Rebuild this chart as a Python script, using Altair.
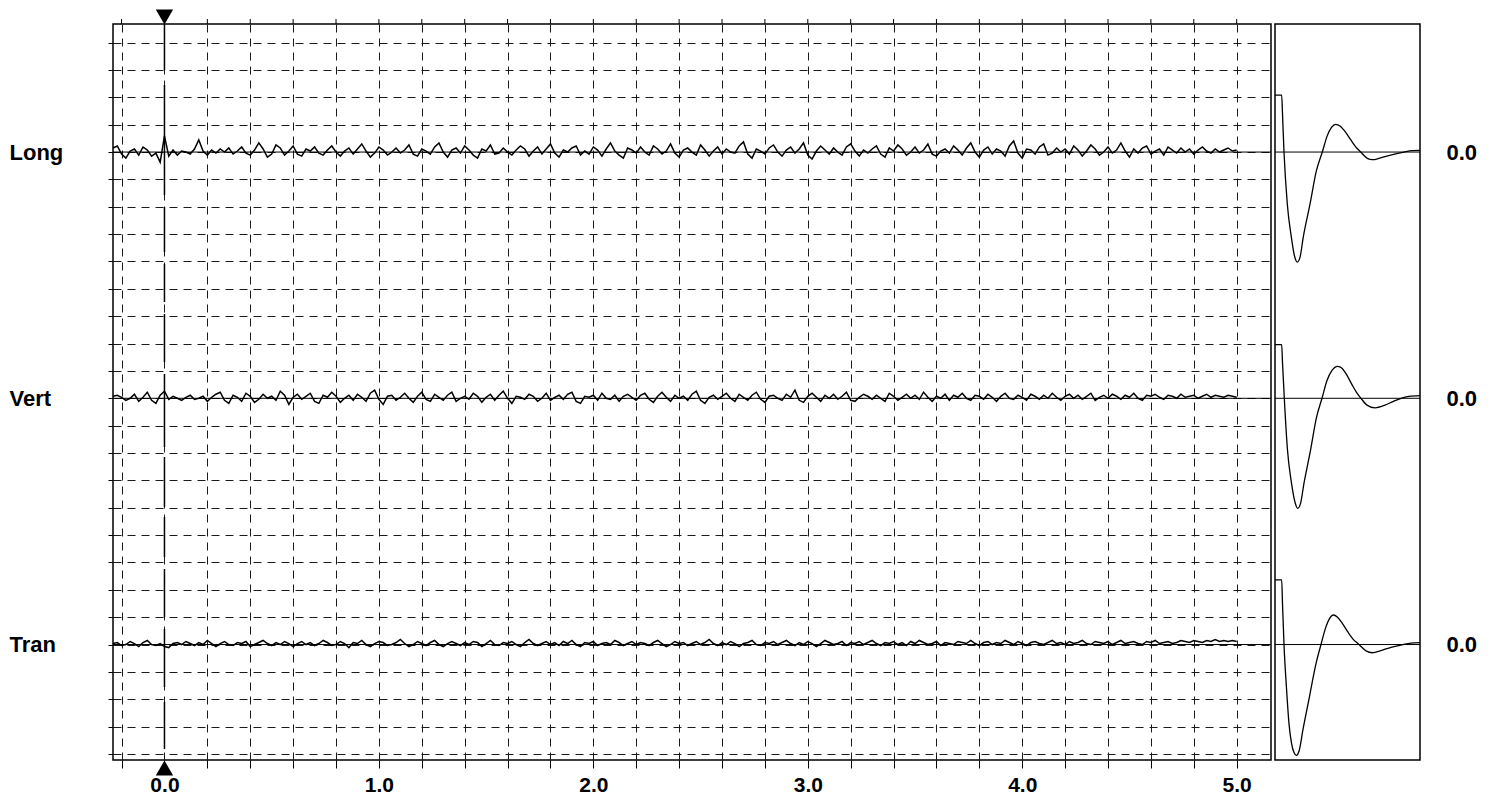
import altair as alt
import pandas as pd

FONT = "Liberation Sans"

# ---------------- data ----------------
CHANNELS = ["Long", "Vert", "Tran"]
BASELINES = [22, 13, 4]          # grid row of each channel's zero line
T_START, T_END = -0.24, 5.0      # seconds covered by the traces
AMP_PER_COUNT = 0.037            # grid rows per amplitude count

LONG = [4, 6, -2, -6, 1, 3, -3, 5, 2, -4, -1, -10, 16, -4, 2, -3, 1, 0, -2, 3, 12, 1, -3, 2, -1,
        3, 0, 4, -2, 1, 5, -1, -3, 2, 9, 3, -5, -2, 7, 4, -3, 1, 6, -2, -4, 3, 1, 5, -1, -3,
        2, 6, 0, -4, 1, 4, -2, 3, 8, 1, -5, -1, 5, 2, -3, 0, 4, -1, 2, 7, -2, -4, 3, 1, -2,
        5, 9, 0, -5, 2, 4, -1, 6, 2, -3, -6, 3, 1, 7, -2, -1, 4, 0, -3, 2, 6, 3, -4, 1, 5,
        -2, 3, 8, -1, -5, 2, 0, 4, 6, -3, 1, -2, 5, 2, -4, 3, 9, 1, -3, -6, 4, 2, -1, 5, 0,
        -3, 6, 3, -2, 1, 8, -1, -5, 2, 4, 0, -3, 7, 2, -4, 1, 5, -2, 3, 0, -1, 6, 10, -2, -6,
        3, 1, -2, 4, 7, 0, -4, 2, 5, -1, 3, 9, -3, -7, 1, 6, 2, -2, 4, 0, -3, 5, 8, 1, -4,
        2, -1, 3, 6, -2, -5, 4, 1, 7, 3, -3, 0, 5, -1, 2, 8, -2, -4, 1, 3, -1, 6, 2, -3, 4,
        9, 0, -5, 2, 5, -2, 3, 1, -4, 6, 11, -1, -6, 3, 2, -2, 5, 8, -3, -1, 4, 0, 3, -2, 6,
        2, -4, 1, 7, 3, -3, 0, 5, -1, 2, 9, 1, -5, 3, -1, 4, 6, -2, 1, 3, -3, 5, 2, -1, 4,
        0, 3, -2, 2, 5, 1, -1, 3, 0, 2, 4, 1, 2]

VERT = [2, 3, 1, -2, 0, 4, -3, 1, 6, -2, -5, 3, 7, -1, 2, 0, -2, 1, 3, -1, 0, 2, -3, 1, 4,
        6, -2, -5, 3, 1, -3, 5, 2, -4, -1, 4, 0, 2, -2, 7, 3, -6, 1, 4, -1, 2, 5, -3, -5, 3,
        1, 6, 2, -4, 0, 3, -2, 4, 1, -3, 5, 8, -1, -6, 2, 3, -2, 1, 5, 0, -4, 2, 6, -1, -3,
        4, 1, -2, 3, 6, -3, 0, 2, -1, 5, 2, -4, 1, 4, -2, 3, 7, 0, -5, 2, 1, -1, 4, 2, -3,
        0, 5, -2, 1, 3, -1, 4, 6, -3, -5, 2, 1, 3, -2, 5, 0, -1, 3, -3, 2, 4, 1, -2, 3, 5,
        -1, -4, 2, 6, 1, -3, 3, 0, 2, -2, 4, 7, -2, -5, 1, 3, -1, 2, 5, 0, -3, 4, 1, -2, 3,
        6, -1, -4, 2, 3, 0, -2, 4, 1, 8, -2, -4, 2, 5, 1, -3, 3, 0, 4, -1, 2, 6, -2, -3, 1,
        4, 2, -1, 3, 0, -3, 5, 2, -2, 1, 4, 0, 3, -1, 6, 1, -3, 2, 0, 4, -2, 3, 1, 5, 0,
        -2, 3, 2, -1, 4, 1, -3, 2, 5, 0, -1, 3, 1, -2, 4, 2, -1, 3, 0, 5, 1, -2, 2, 4, 0,
        3, -1, 2, 5, -2, 1, 3, 0, 4, 2, -1, 3, 1, 5, 0, -2, 3, 2, 4, 1, -1, 3, 2, 0, 4,
        1, 2, 3, 0, 2, 4, 1, 3, 2, 1, 3, 2, 1]

TRAN = [1, 2, -1, 0, 3, 1, -2, 2, 4, 0, -1, 1, -2, -3, 1, 2, 0, 3, 1, -1, 2, 0, 4, 1, -2,
        1, 3, 0, -1, 2, 1, 3, -2, 0, 2, 4, 1, -1, 2, 0, 3, 1, -2, 1, 3, 0, 2, -1, 1, 4,
        2, -1, 0, 3, 1, -3, 2, 1, 4, 0, -2, 1, 3, 2, -1, 0, 2, 5, 1, -2, 0, 3, 1, -1, 2,
        4, 0, -2, 1, 3, 1, -1, 2, 0, 3, 2, -2, 1, 4, 0, -1, 2, 1, 3, 0, -2, 2, 5, 1, -1,
        1, 3, 0, 2, -1, 3, 1, 4, 0, -2, 2, 1, 3, -1, 1, 2, 0, 4, 2, -1, 1, 3, 0, 2, 1,
        -1, 2, 4, 1, -2, 0, 3, 1, 2, -1, 1, 3, 0, 2, 5, 1, -1, 2, 0, 3, 1, -2, 1, 2, 4,
        0, -1, 2, 1, 3, 0, 2, 4, 1, -1, 2, 0, 3, 1, -2, 1, 4, 2, 0, 1, 3, -1, 2, 1, 3,
        0, 2, 4, 1, -1, 2, 1, 3, 0, 2, -1, 3, 1, 4, 2, 0, 1, 3, -1, 2, 1, 0, 3, 2, 1,
        4, 1, -1, 2, 3, 0, 2, 1, 4, 2, 0, 3, 1, -1, 2, 3, 1, 0, 2, 4, 1, 2, 0, 3, 1,
        2, 4, 1, 0, 3, 2, 1, 3, 0, 2, 4, 1, 2, 3, 1, 0, 3, 2, 4, 1, 2, 3, 1, 2, 4,
        3, 2, 4, 3, 2, 4, 3, 5, 3, 4, 3, 4, 3]

# right-hand panel: response curves (position along panel, value in grid rows)
RESP_LONG = [(0, 2.08), (6.7, 2.08), (7.5, 1.4), (9, 0), (12.3, -1.9), (16.3, -3.1), (19.5, -3.8),
             (22.3, -4.02), (25, -3.85), (28.3, -3.1), (35, -1.9), (41.3, -0.7), (47.3, 0),
             (52.3, 0.6), (56.5, 0.9), (60.7, 1.01), (65, 0.95), (69, 0.8), (75.7, 0.45),
             (80.5, 0.2), (85.7, 0), (92.3, -0.23), (97.3, -0.28), (105.7, -0.21),
             (115.7, -0.11), (129, 0), (137, 0.05), (145, 0.06)]
RESP_VERT = [(0, 1.96), (6.7, 1.96), (7.5, 1.3), (9.3, 0), (12.5, -1.9), (16.5, -3.1), (20, -3.8),
             (22.7, -4.02), (25.5, -3.85), (29, -3.1), (35.5, -1.9), (41.5, -0.7), (47, 0),
             (52, 0.65), (57, 1.02), (62.7, 1.17), (67, 1.1), (71, 0.9), (77, 0.5),
             (81.5, 0.22), (86, 0), (92, -0.25), (100, -0.35), (110, -0.25), (118, -0.12),
             (126, 0), (134, 0.07), (145, 0.1)]
RESP_TRAN = [(0, 2.36), (6.7, 2.36), (7.5, 1.5), (9, 0), (11.5, -1.6), (14, -2.9), (16.5, -3.6),
             (19, -3.95), (21.3, -4.05), (24, -3.9), (28, -3.1), (34.5, -1.9), (41, -0.7),
             (46, 0), (50.5, 0.6), (54.5, 0.95), (58.3, 1.08), (62.5, 1.0), (66.5, 0.82),
             (73, 0.45), (78, 0.2), (84, 0), (91, -0.23), (97.3, -0.3), (106, -0.22),
             (116, -0.1), (128, 0), (136, 0.05), (145, 0.07)]

X_TICKS = [-0.2, 0.0, 0.2, 0.4, 0.6, 0.8, 1.0, 1.2, 1.4, 1.6, 1.8, 2.0, 2.2, 2.4, 2.6, 2.8,
           3.0, 3.2, 3.4, 3.6, 3.8, 4.0, 4.2, 4.4, 4.6, 4.8, 5.0]
Y_GRID = list(range(0, 27))
MARKER_T = [0.0]

X_DOMAIN = [-0.24, 5.16]
Y_DOMAIN = [-0.22, 26.68]
RESP_DOMAIN = [0, 145]

# dash pattern of the time-zero marker line (from top to bottom)
MARKER_DASH = [46, 15, 110, 12, 45, 12, 38, 12, 48, 12, 73, 10, 50, 10, 40, 12, 48, 12, 58, 15, 47, 20]

# ---------------- tables ----------------
rows = []
for name, base, amps in zip(CHANNELS, BASELINES, [LONG, VERT, TRAN]):
    n = len(amps)
    step = (T_END - T_START) / (n - 1)
    for i, a in enumerate(amps):
        rows.append({"channel": name, "t": T_START + i * step, "y": base + a * AMP_PER_COUNT})
trace_df = pd.DataFrame(rows)

resp_rows = []
for name, base, pts in zip(CHANNELS, BASELINES, [RESP_LONG, RESP_VERT, RESP_TRAN]):
    for u, v in pts:
        resp_rows.append({"channel": name, "u": u, "y": base + v})
resp_df = pd.DataFrame(resp_rows)

base_df = pd.DataFrame({"channel": CHANNELS, "base": BASELINES})
tick_df = pd.DataFrame({"t": X_TICKS})
marker_df = pd.DataFrame({"t": MARKER_T, "ytop": [Y_DOMAIN[1]], "ybot": [Y_DOMAIN[0]]})

# ---------------- scales / axes ----------------
W, H = 1158, 736
RW = 145
x_scale = alt.Scale(domain=X_DOMAIN, nice=False, zero=False)
y_scale = alt.Scale(domain=Y_DOMAIN, nice=False, zero=False)

x_axis = alt.Axis(
    values=X_TICKS, title=None, domain=False,
    labelExpr="abs(datum.value - round(datum.value)) < 0.001 ? format(datum.value, '.1f') : ''",
    grid=True, gridDash=[8, 6], gridColor="#1a1a1a", gridWidth=1,
    ticks=True, tickSize=8, tickColor="black", tickWidth=1,
    labelFont=FONT, labelFontSize=21, labelFontWeight="bold", labelColor="black",
    labelPadding=6, labelOverlap=False, labelFlush=False,
)
y_axis = alt.Axis(
    values=Y_GRID, title=None, domain=False,
    labelExpr="datum.value == 22 ? 'Long' : datum.value == 13 ? 'Vert' : datum.value == 4 ? 'Tran' : ''",
    grid=True, gridDash=[8, 6], gridColor="#1a1a1a", gridWidth=1,
    ticks=True, tickSize=5, tickColor="black", tickWidth=1,
    labelFont=FONT, labelFontSize=22, labelFontWeight="bold", labelColor="black",
    labelAlign="left", labelBaseline="middle", labelPadding=99,
    labelOverlap=False, labelFlush=False,
)

X = lambda: alt.X("t:Q", scale=x_scale, axis=x_axis)

# ---------------- main panel ----------------
zero_lines = alt.Chart(base_df).mark_rule(color="black", strokeWidth=1).encode(
    y=alt.Y("base:Q", scale=y_scale, axis=y_axis)
)

traces = alt.Chart(trace_df).mark_line(color="black", strokeWidth=1.5).encode(
    x=X(),
    y=alt.Y("y:Q", scale=y_scale, axis=y_axis),
    detail="channel:N",
)

marker_line = alt.Chart(marker_df).mark_rule(
    color="black", strokeWidth=1.5, strokeDash=MARKER_DASH
).encode(
    x=X(),
    y=alt.Y("ytop:Q", scale=y_scale, axis=y_axis),
    y2="ybot:Q",
)

tri_top = alt.Chart(marker_df).mark_point(
    shape="triangle-down", filled=True, color="black", opacity=1, size=300
).encode(x=X(), y=alt.value(-7))

tri_bottom = alt.Chart(marker_df).mark_point(
    shape="triangle-up", filled=True, color="black", opacity=1, size=300
).encode(x=X(), y=alt.value(H + 8))

top_ticks = alt.Chart(tick_df).mark_rule(color="black", strokeWidth=1).encode(
    x=X(),
    y=alt.value(-5),
    y2=alt.value(0),
)

main = alt.layer(zero_lines, traces, marker_line, top_ticks, tri_top, tri_bottom).properties(
    width=W, height=H
)

# ---------------- right panel ----------------
r_axis = alt.Axis(
    orient="right", values=BASELINES, title=None, domain=False, grid=False,
    ticks=False, tickSize=0, labelExpr="'0.0'",
    labelFont=FONT, labelFontSize=22, labelFontWeight="bold", labelColor="black",
    labelPadding=26, labelBaseline="middle", labelOverlap=False, labelFlush=False,
)

r_zero = alt.Chart(base_df).mark_rule(color="black", strokeWidth=1).encode(
    y=alt.Y("base:Q", scale=y_scale, axis=r_axis)
)
r_curves = alt.Chart(resp_df).mark_line(
    color="black", strokeWidth=1.3, interpolate="monotone"
).encode(
    x=alt.X("u:Q", scale=alt.Scale(domain=RESP_DOMAIN, nice=False, zero=False), axis=None),
    y=alt.Y("y:Q", scale=y_scale, axis=r_axis),
    detail="channel:N",
)
right = alt.layer(r_zero, r_curves).properties(width=RW, height=H)

chart = (
    alt.hconcat(main, right, spacing=4, bounds="flush")
    .properties(padding=0, background="white")
    .configure_view(stroke="black", strokeWidth=1.5)
)

chart.save("out.html", embed_options={"renderer": "svg", "actions": False})
